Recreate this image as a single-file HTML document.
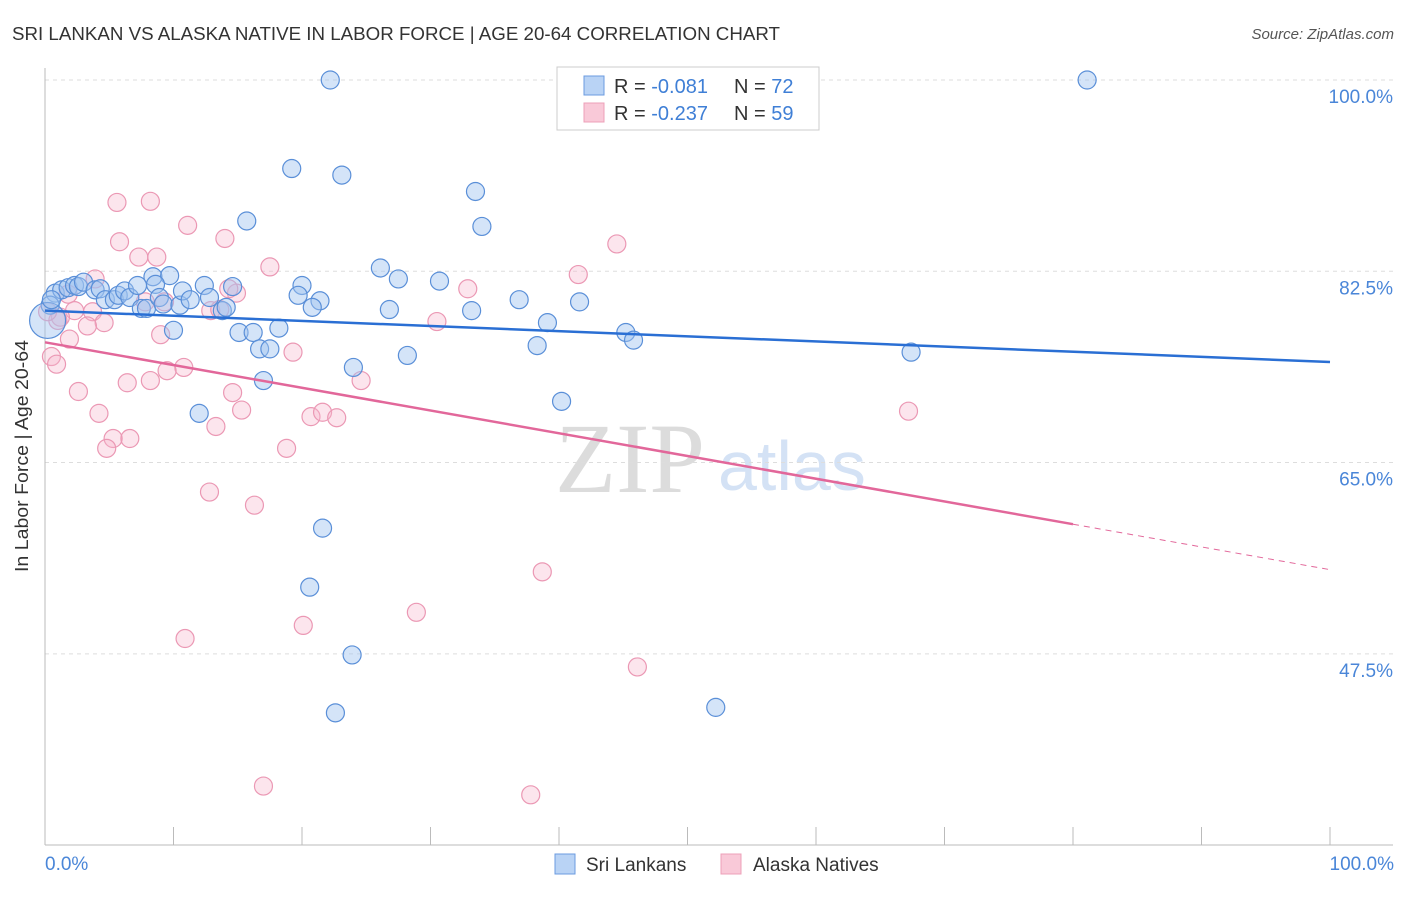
<!DOCTYPE html>
<html><head><meta charset="utf-8"><style>
body{margin:0;background:#fff;font-family:"Liberation Sans",sans-serif;}
</style></head><body>
<svg id="c" width="1406" height="892" xmlns="http://www.w3.org/2000/svg">
<text x="12" y="40" font-size="18" fill="#333" textLength="768" lengthAdjust="spacingAndGlyphs">SRI LANKAN VS ALASKA NATIVE IN LABOR FORCE | AGE 20-64 CORRELATION CHART</text>
<text x="1394" y="39" font-size="15" fill="#555" font-style="italic" text-anchor="end">Source: ZipAtlas.com</text>
<text x="555" y="492" font-size="100" fill="#dcdcdc" font-family="Liberation Serif">ZIP</text>
<text x="718" y="490" font-size="70" fill="#d4e2f5">atlas</text>
<g id="grid"></g>
<line x1="45" y1="68" x2="45" y2="845" stroke="#bbb"/>
<line x1="45" y1="845" x2="1393" y2="845" stroke="#bbb"/>
<text x="28" y="456" font-size="18" fill="#333" text-anchor="middle" textLength="232" lengthAdjust="spacingAndGlyphs" transform="rotate(-90 28 456)">In Labor Force | Age 20-64</text>
<text x="45" y="870" font-size="19" fill="#4a86d8">0.0%</text>
<text x="1394" y="870" font-size="19" fill="#4a86d8" text-anchor="end">100.0%</text>
<g id="pts"></g>
<g id="trend"></g>
<g>
<rect x="557" y="67" width="262" height="63" fill="#fff" stroke="#ccc"/>
<rect x="584" y="76" width="20" height="19" fill="#b9d3f5" stroke="#6b9be0"/>
<rect x="584" y="103" width="20" height="19" fill="#f9c9d8" stroke="#eda0b8"/>
<text x="614" y="93" font-size="20" fill="#333">R = <tspan fill="#3f7fd6">-0.081</tspan></text>
<text x="734" y="93" font-size="20" fill="#333">N = <tspan fill="#3f7fd6">72</tspan></text>
<text x="614" y="120" font-size="20" fill="#333">R = <tspan fill="#3f7fd6">-0.237</tspan></text>
<text x="734" y="120" font-size="20" fill="#333">N = <tspan fill="#3f7fd6">59</tspan></text>
</g>
<g>
<rect x="555" y="854" width="20" height="20" fill="#b9d3f5" stroke="#6b9be0"/>
<text x="586" y="871" font-size="19" fill="#333">Sri Lankans</text></g>
<g>
<rect x="721" y="854" width="20" height="20" fill="#f9c9d8" stroke="#eda0b8"/>
<text x="753" y="871" font-size="19" fill="#333">Alaska Natives</text></g>
</svg>
<script>
const yTicks=[100,82.5,65,47.5];
const yTickLabels=["100.0%","82.5%","65.0%","47.5%"];
const xTicks=[0,10,20,30,40,50,60,70,80,90,100];
const blueX=[22.2,81.1,19.2,23.1,33.5,34.0,15.7,26.1,27.5,30.7,8.4,9.7,12.4,14.6,20.0,19.7,21.4,20.8,26.8,33.2,36.9,41.6,39.1,38.3,45.2,45.8,28.2,24.0,40.2,12.0,17.0,21.6,20.6,23.9,22.6,52.2,67.4,15.1,16.2,18.2,16.7,17.5,10.0,0.8,1.3,1.8,2.3,2.6,3.0,3.9,4.3,4.7,5.4,5.7,6.2,6.6,7.2,7.5,7.9,8.6,8.9,9.2,10.5,10.7,11.3,12.8,13.8,14.1,0.4,0.2,0.5];
const blueY=[100,100,91.9,91.3,89.8,86.6,87.1,82.8,81.8,81.6,82.0,82.1,81.2,81.1,81.2,80.3,79.8,79.2,79.0,78.9,79.9,79.7,77.8,75.7,76.9,76.2,74.8,73.7,70.6,69.5,72.5,59.0,53.6,47.4,42.1,42.6,75.1,76.9,76.9,77.3,75.4,75.4,77.1,80.5,80.8,81.0,81.2,81.1,81.5,80.8,80.9,79.9,79.9,80.3,80.7,80.1,81.2,79.1,79.1,81.3,80.1,79.5,79.4,80.7,79.9,80.1,78.9,79.2,79.4,78.0,79.9];
const pinkX=[5.6,8.2,11.1,14.0,5.8,7.3,8.7,17.5,44.5,41.5,32.9,3.9,1.8,14.9,14.3,12.9,13.6,7.8,9.3,3.7,4.6,2.3,1.2,3.3,1.9,0.5,0.9,9.0,19.3,10.8,9.5,6.4,8.2,2.6,14.6,24.6,15.3,4.2,13.3,6.6,5.3,4.8,20.7,21.6,22.7,18.8,30.5,12.8,16.3,38.7,28.9,20.1,10.9,46.1,17.0,37.8,67.2,1.0,0.2];
const pinkY=[88.8,88.9,86.7,85.5,85.2,83.8,83.8,82.9,85.0,82.2,80.9,81.8,80.4,80.5,80.9,78.9,79.0,79.7,79.7,78.8,77.8,78.9,78.3,77.5,76.3,74.7,74.0,76.7,75.1,73.7,73.4,72.3,72.5,71.5,71.4,72.5,69.8,69.5,68.3,67.2,67.2,66.3,69.2,69.6,69.1,66.3,77.9,62.3,61.1,55.0,51.3,50.1,48.9,46.3,35.4,34.6,69.7,78.0,78.8];
const blueTrend=[78.9,74.2];
const pinkTrend=[76.0,55.2];
const pinkSolidEnd=80;
const NS="http://www.w3.org/2000/svg";
const sx=v=>45+v*12.85;
const sy=v=>80+(100-v)*10.93;
function mk(t,a,p){const e=document.createElementNS(NS,t);for(const k in a)e.setAttribute(k,a[k]);p.appendChild(e);return e;}
const grid=document.getElementById('grid');
yTicks.forEach((t,i)=>{
 const l=mk('line',{x1:45,x2:1393,y1:sy(t),y2:sy(t),stroke:'#ddd','stroke-dasharray':'4,4'},grid);
 
 
 const tx=mk('text',{x:1393,y:sy(t)+23,'font-size':19,fill:'#4a86d8','text-anchor':'end'},grid);
 tx.textContent=yTickLabels[i];
 
 
});
xTicks.forEach(t=>{
 const l=mk('line',{x1:sx(t),x2:sx(t),y1:827,y2:845,stroke:'#bbb'},grid);
 
 
});
const pts=document.getElementById('pts');
pinkX.forEach((x,i)=>{
 const c=mk('circle',{cx:sx(x),cy:sy(pinkY[i]),r:9,fill:'rgba(247,180,202,0.35)',stroke:'#eb98b4','stroke-width':1.2},pts);
 
 
});
blueX.forEach((x,i)=>{
 const c=mk('circle',{cx:sx(x),cy:sy(blueY[i]),r:(i==blueX.length-2?18:9),fill:'rgba(160,196,240,0.45)',stroke:'#5a8fd8','stroke-width':1.2},pts);
 
 
});
const tr=document.getElementById('trend');
const bl=mk('line',{x1:sx(0),y1:sy(blueTrend[0]),x2:sx(100),y2:sy(blueTrend[1]),stroke:'#2a6fd4','stroke-width':2.5},tr);


const pv=x=>pinkTrend[0]+(pinkTrend[1]-pinkTrend[0])*x/100;
const pl=mk('line',{x1:sx(0),y1:sy(pv(0)),x2:sx(pinkSolidEnd),y2:sy(pv(pinkSolidEnd)),stroke:'#e2679a','stroke-width':2.5},tr);


const pd=mk('line',{x1:sx(pinkSolidEnd),y1:sy(pv(pinkSolidEnd)),x2:sx(100),y2:sy(pv(100)),stroke:'#e2679a','stroke-width':1,'stroke-dasharray':'6,5'},tr);


</script>
</body></html>
